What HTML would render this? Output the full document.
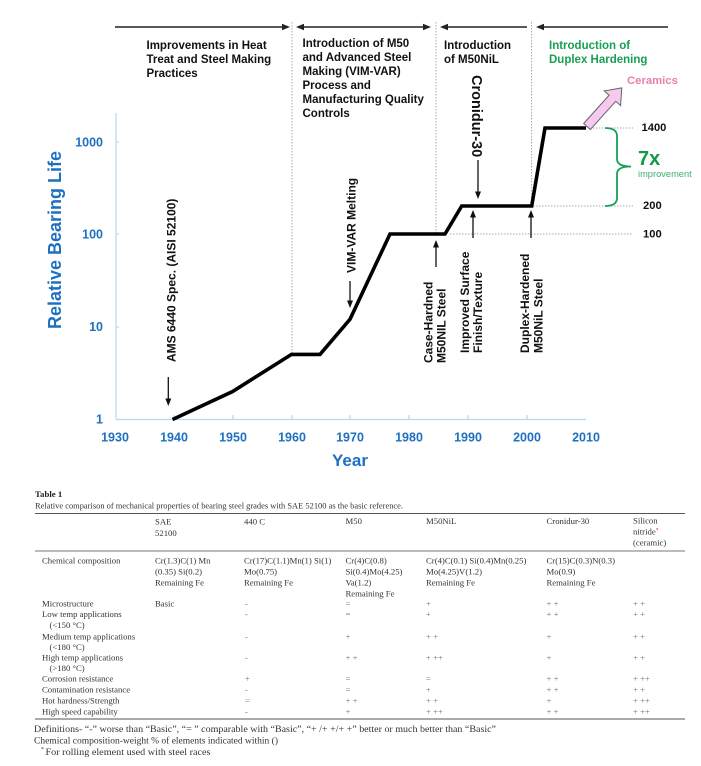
<!DOCTYPE html>
<html><head><meta charset="utf-8"><style>
html,body{margin:0;padding:0;background:#fff;}
svg{display:block;}
.s{font-family:"Liberation Sans",Arial,sans-serif;font-weight:bold;}
.t{font-family:"Liberation Serif","Times New Roman",serif;fill:#333;font-size:8.7px;}
.v{font-family:"Liberation Serif","Times New Roman",serif;fill:#777;font-size:8.7px;}
.blue{fill:#1f70c1;}
</style></head><body>
<svg width="701" height="766" viewBox="0 0 701 766" xmlns="http://www.w3.org/2000/svg">
<!-- top arrows -->
<g stroke="#222" stroke-width="1.5" fill="none">
<line x1="115" y1="27" x2="284" y2="27"/>
<line x1="301" y1="27" x2="426" y2="27"/>
<line x1="445" y1="27" x2="527" y2="27"/>
<line x1="541" y1="27" x2="668" y2="27"/>
</g>
<g fill="#222">
<polygon points="290,27 282,23.8 282,30.2"/>
<polygon points="296,27 304,23.8 304,30.2"/>
<polygon points="431,27 423,23.8 423,30.2"/>
<polygon points="440,27 448,23.8 448,30.2"/>
<polygon points="536,27 544,23.8 544,30.2"/>
</g>
<!-- dividers -->
<g stroke="#aaa" stroke-width="1" stroke-dasharray="1.5,1.5" fill="none">
<line x1="292" y1="22" x2="292" y2="354"/>
<line x1="436" y1="22" x2="436" y2="234"/>
<line x1="531.5" y1="22" x2="531.5" y2="206"/>
<line x1="590" y1="128" x2="633" y2="128"/>
<line x1="533" y1="206" x2="633" y2="206"/>
<line x1="450" y1="234" x2="633" y2="234"/>
</g>
<!-- header text -->
<g class="s" font-size="11.5" fill="#111">
<text x="146.5" y="49">Improvements in Heat</text>
<text x="146.5" y="63">Treat and Steel Making</text>
<text x="146.5" y="77">Practices</text>
<text x="302.5" y="47">Introduction of M50</text>
<text x="302.5" y="61">and Advanced Steel</text>
<text x="302.5" y="75">Making (VIM-VAR)</text>
<text x="302.5" y="89">Process and</text>
<text x="302.5" y="103">Manufacturing Quality</text>
<text x="302.5" y="117">Controls</text>
<text x="444" y="49">Introduction</text>
<text x="444" y="63">of M50NiL</text>
</g>
<g class="s" font-size="11.5" fill="#17a053">
<text x="549" y="49">Introduction of</text>
<text x="549" y="63">Duplex Hardening</text>
</g>
<text class="s" x="627" y="84" font-size="11.3" fill="#ea7fae">Ceramics</text>
<!-- pink arrow -->
<g transform="translate(587,126.5) rotate(-48)">
<polygon points="0,-4.5 38,-4.5 38,-11 52,0 38,11 38,4.5 0,4.5" fill="#f6c9ee" stroke="#666" stroke-width="1"/>
</g>
<!-- axes -->
<g stroke="#bcd6ee" stroke-width="1.2" fill="none">
<line x1="116" y1="113" x2="116" y2="419.5"/>
<line x1="116" y1="419.5" x2="586" y2="419.5"/>
<line x1="174" y1="415" x2="174" y2="419"/>
<line x1="233" y1="415" x2="233" y2="419"/>
<line x1="292" y1="415" x2="292" y2="419"/>
<line x1="350" y1="415" x2="350" y2="419"/>
<line x1="409" y1="415" x2="409" y2="419"/>
<line x1="468" y1="415" x2="468" y2="419"/>
<line x1="527" y1="415" x2="527" y2="419"/>
<line x1="116" y1="142" x2="119" y2="142"/>
<line x1="116" y1="234" x2="119" y2="234"/>
<line x1="116" y1="327" x2="119" y2="327"/>
</g>
<g class="s blue" font-size="12.5" text-anchor="end">
<text x="103" y="146.5">1000</text>
<text x="103" y="238.5">100</text>
<text x="103" y="331">10</text>
<text x="103" y="423.5">1</text>
</g>
<g class="s blue" font-size="12.5" text-anchor="middle">
<text x="115" y="441.5">1930</text>
<text x="174" y="441.5">1940</text>
<text x="233" y="441.5">1950</text>
<text x="292" y="441.5">1960</text>
<text x="350" y="441.5">1970</text>
<text x="409" y="441.5">1980</text>
<text x="468" y="441.5">1990</text>
<text x="527" y="441.5">2000</text>
<text x="586" y="441.5">2010</text>
</g>
<text class="s blue" x="350" y="466" font-size="17" text-anchor="middle">Year</text>
<text class="s blue" transform="translate(61,240) rotate(-90)" font-size="18" text-anchor="middle">Relative Bearing Life</text>
<!-- curve -->
<polyline points="172.5,419.5 232.6,391.5 291.5,354.4 320,354.4 350,319.3 390,234 445,234 461.7,206 531.7,206 545,128 586,128" fill="none" stroke="#000" stroke-width="3.6" stroke-linejoin="miter"/>
<!-- right labels -->
<g class="s" font-size="11.2" fill="#111">
<text x="641.5" y="131">1400</text>
<text x="643" y="209">200</text>
<text x="643" y="237.5">100</text>
</g>
<path d="M605,128 Q617,128 617,136 L617,159 Q617,166.5 631,166.5 Q617,166.5 617,174 L617,198 Q617,206 605,206" fill="none" stroke="#17a053" stroke-width="1.8"/>
<text class="s" x="638" y="165" font-size="20" fill="#109a48">7x</text>
<text x="638" y="177" font-size="9.3" fill="#3bb06c" font-family="Liberation Sans, Arial, sans-serif">improvement</text>
<!-- vertical annotations -->
<g class="s" font-size="12" fill="#111">
<text transform="translate(175.5,362) rotate(-90)">AMS 6440 Spec. (AISI 52100)</text>
<text transform="translate(355.5,273) rotate(-90)">VIM-VAR Melting</text>
<text transform="translate(432.5,363) rotate(-90)">Case-Hardned</text>
<text transform="translate(445.5,363) rotate(-90)">M50NIL Steel</text>
<text transform="translate(469,353) rotate(-90)">Improved Surface</text>
<text transform="translate(482,353) rotate(-90)">Finish/Texture</text>
<text transform="translate(529,353) rotate(-90)">Duplex-Hardened</text>
<text transform="translate(542.5,353) rotate(-90)">M50NiL Steel</text>
</g>
<text class="s" transform="translate(472,75) rotate(90)" font-size="14.5" fill="#111">Cronidur-30</text>
<!-- small arrows -->
<g stroke="#111" stroke-width="1.3">
<line x1="168.3" y1="377" x2="168.3" y2="400"/>
<line x1="350" y1="281" x2="350" y2="302"/>
<line x1="478" y1="160" x2="478" y2="192"/>
<line x1="436" y1="267" x2="436" y2="246"/>
<line x1="473" y1="238" x2="473" y2="216"/>
<line x1="531" y1="238" x2="531" y2="216"/>
</g>
<g fill="#111">
<polygon points="168.3,406 165.3,398.5 171.3,398.5"/>
<polygon points="350,308 347,300.5 353,300.5"/>
<polygon points="478,199 475,191.5 481,191.5"/>
<polygon points="436,240 433,247.5 439,247.5"/>
<polygon points="473,210 470,217.5 476,217.5"/>
<polygon points="531,210 528,217.5 534,217.5"/>
</g>
<!-- TABLE -->
<text x="35" y="497" font-family="Liberation Serif, serif" font-weight="bold" font-size="8.8" fill="#222">Table 1</text>
<text class="t" x="35" y="508.5" textLength="368" lengthAdjust="spacingAndGlyphs" font-size="8.6">Relative comparison of mechanical properties of bearing steel grades with SAE 52100 as the basic reference.</text>
<line x1="35" y1="513.5" x2="685" y2="513.5" stroke="#555" stroke-width="0.9"/>
<line x1="35" y1="551" x2="685" y2="551" stroke="#777" stroke-width="0.9"/>
<line x1="35" y1="719" x2="685" y2="719" stroke="#555" stroke-width="0.9"/>
<g class="t">
<text x="155" y="524.5">SAE</text>
<text x="155" y="536">52100</text>
<text x="244" y="524.5">440 C</text>
<text x="345.5" y="524">M50</text>
<text x="426" y="524">M50NiL</text>
<text x="546.5" y="524">Cronidur-30</text>
<text x="633" y="523.5">Silicon</text>
<text x="633" y="534.5">nitride<tspan font-size="5.5" dy="-3" fill="#c06">*</tspan></text>
<text x="633" y="545.5">(ceramic)</text>

<text x="42" y="563.5">Chemical composition</text>
<text x="155" y="563.5">Cr(1.3)C(1) Mn</text>
<text x="155" y="574.5">(0.35) Si(0.2)</text>
<text x="155" y="585.5">Remaining Fe</text>
<text x="244" y="563.5">Cr(17)C(1.1)Mn(1) Si(1)</text>
<text x="244" y="574.5">Mo(0.75)</text>
<text x="244" y="585.5">Remaining Fe</text>
<text x="345.5" y="563.5">Cr(4)C(0.8)</text>
<text x="345.5" y="574.5">Si(0.4)Mo(4.25)</text>
<text x="345.5" y="585.5">Va(1.2)</text>
<text x="345.5" y="596.5">Remaining Fe</text>
<text x="426" y="563.5">Cr(4)C(0.1) Si(0.4)Mn(0.25)</text>
<text x="426" y="574.5">Mo(4.25)V(1.2)</text>
<text x="426" y="585.5">Remaining Fe</text>
<text x="546.5" y="563.5">Cr(15)C(0.3)N(0.3)</text>
<text x="546.5" y="574.5">Mo(0.9)</text>
<text x="546.5" y="585.5">Remaining Fe</text>

<text x="42" y="606.5">Microstructure</text>
<text x="155" y="606.5">Basic</text>
<text x="42" y="617">Low temp applications</text>
<text x="49.5" y="628">(&lt;150 °C)</text>
<text x="42" y="639.5">Medium temp applications</text>
<text x="49.5" y="650">(&lt;180 °C)</text>
<text x="42" y="660.5">High temp applications</text>
<text x="49.5" y="671">(&gt;180 °C)</text>
<text x="42" y="681.5">Corrosion resistance</text>
<text x="42" y="692.5">Contamination resistance</text>
<text x="42" y="703.5">Hot hardness/Strength</text>
<text x="42" y="714.5">High speed capability</text>
</g>
<g class="v">
<!-- 440C -->
<text x="245" y="606.5">-</text><text x="245" y="617">-</text><text x="245" y="639.5">-</text><text x="245" y="660.5">-</text>
<text x="245" y="681.5">+</text><text x="245" y="692.5">-</text><text x="245" y="703.5">=</text><text x="245" y="714.5">-</text>
<!-- M50 -->
<text x="345.5" y="606.5">=</text><text x="345.5" y="617">=</text><text x="345.5" y="639.5">+</text><text x="345.5" y="660.5">+ +</text>
<text x="345.5" y="681.5">=</text><text x="345.5" y="692.5">=</text><text x="345.5" y="703.5">+ +</text><text x="345.5" y="714.5">+</text>
<!-- M50NiL -->
<text x="426" y="606.5">+</text><text x="426" y="617">+</text><text x="426" y="639.5">+ +</text><text x="426" y="660.5">+ ++</text>
<text x="426" y="681.5">=</text><text x="426" y="692.5">+</text><text x="426" y="703.5">+ +</text><text x="426" y="714.5">+ ++</text>
<!-- Cronidur -->
<text x="546.5" y="606.5">+ +</text><text x="546.5" y="617">+ +</text><text x="546.5" y="639.5">+</text><text x="546.5" y="660.5">+</text>
<text x="546.5" y="681.5">+ +</text><text x="546.5" y="692.5">+ +</text><text x="546.5" y="703.5">+</text><text x="546.5" y="714.5">+ +</text>
<!-- Silicon nitride -->
<text x="633" y="606.5">+ +</text><text x="633" y="617">+ +</text><text x="633" y="639.5">+ +</text><text x="633" y="660.5">+ +</text>
<text x="633" y="681.5">+ ++</text><text x="633" y="692.5">+ +</text><text x="633" y="703.5">+ ++</text><text x="633" y="714.5">+ ++</text>
</g>
<g class="t" font-size="9.2" style="font-size:9.2px">
<text x="34" y="732" textLength="462" lengthAdjust="spacingAndGlyphs">Definitions- “-” worse than “Basic”, “= ” comparable with “Basic”, “+ /+ +/+ +” better or much better than “Basic”</text>
<text x="34" y="743.5" textLength="244" lengthAdjust="spacingAndGlyphs">Chemical composition-weight % of elements indicated within ()</text>
<text x="41" y="751" style="font-size:6px">*</text>
<text x="45.5" y="755" textLength="165" lengthAdjust="spacingAndGlyphs">For rolling element used with steel races</text>
</g>
</svg>
</body></html>
